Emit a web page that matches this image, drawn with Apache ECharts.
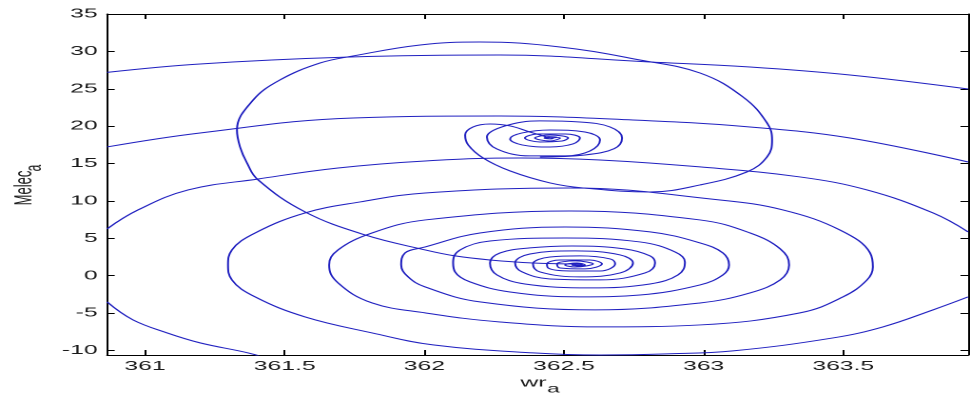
<!DOCTYPE html>
<html>
<head>
<meta charset="utf-8">
<script src="https://cdn.jsdelivr.net/npm/echarts@6/dist/echarts.min.js"></script>
<style>
  html, body { margin: 0; padding: 0; background: #fff; }
  #wrap { width: 970px; height: 394px; overflow: hidden; position: relative; }
  /* the source figure is stretched sideways, so draw narrow and widen */
  #chart { width: 510px; height: 394px; transform: scaleX(1.90196); transform-origin: 0 0; }
</style>
</head>
<body>
<div id="wrap"><div id="chart"></div></div>
<script>
// axis ranges and ticks
const X_MIN = 360.864, X_MAX = 363.947;
const Y_MIN = -10.6, Y_MAX = 35;
const xTicks = [361, 361.5, 362, 362.5, 363, 363.5];
const yTicks = [-10, -5, 0, 5, 10, 15, 20, 25, 30, 35];

// outer arcs of the lower spiral (only the parts inside the box)
const arcA = [[360.864,27.2],[361.197,28.32],[361.734,29.25],[362.271,29.52],[362.808,28.58],[363.166,27.91],[363.524,26.84],[363.947,24.97]];
const arcB = [[360.864,17.22],[361.197,19.09],[361.745,21.10],[362.271,21.36],[362.747,20.83],[363.166,19.89],[363.524,18.42],[363.947,15.21]];
const arcC = [[360.864,6.26],[360.975,8.80],[361.154,11.47],[361.405,12.94],[361.691,14.41],[362.003,15.35],[362.343,15.75],[362.629,15.48],[362.987,14.55],[363.345,13.21],[363.585,11.47],[363.821,8.40],[363.947,5.86]];
const arcD = [[360.864,-3.50],[360.957,-5.91],[361.079,-7.65],[361.197,-8.98],[361.369,-10.32],[361.45,-11.2]];

// lower spiral, from the bottom arc inwards to the centre
const lowerSpiral = [
  [363.947,-2.83],[363.821,-4.57],[363.642,-6.84],[363.463,-8.32],[363.105,-10.05],[362.869,-10.45],[362.629,-10.6],[362.389,-10.32],[362.031,-9.25],[361.813,-7.65],[361.573,-5.51],[361.394,-2.83],[361.311,-0.56],[361.297,1.44],
  [361.311,3.45],[361.394,5.72],[361.573,8.40],[361.770,9.87],[362.003,11.07],[362.522,11.74],[363.059,10.13],[363.284,8.80],[363.488,6.12],[363.596,3.05],[363.606,1.17],
  [363.585,-0.56],[363.499,-2.83],[363.345,-4.97],[362.987,-6.58],[362.629,-6.84],[362.271,-6.18],[362.003,-4.97],[361.813,-3.64],[361.691,-0.96],[361.659,1.44],
  [361.691,3.45],[361.813,5.72],[362.003,7.46],[362.522,8.66],[362.987,7.46],[363.166,5.72],[363.274,3.60],[363.306,1.44],
  [363.274,-0.56],[363.166,-2.30],[362.987,-3.64],[362.611,-4.57],[362.199,-3.50],[362.003,-1.50],[361.942,-0.16],[361.917,1.44],
  [361.931,3.05],[362.003,3.85],[362.199,5.72],[362.504,6.52],[362.808,5.86],[362.987,4.39],[363.069,3.05],[363.091,1.44],
  [363.069,0.11],[362.987,-1.23],[362.772,-2.57],[362.557,-2.83],[362.307,-2.17],[362.164,-0.83],[362.110,0.51],[362.103,1.71],
  [362.128,3.45],[362.235,4.65],[362.504,5.05],[362.772,4.52],[362.898,3.18],[362.933,1.84],
  [362.908,0.11],[362.808,-1.10],[362.593,-1.63],[362.360,-1.10],[362.260,0.11],[362.235,1.71],
  [362.271,3.05],[362.378,3.72],[362.529,3.98],[362.719,3.58],[362.808,2.65],[362.826,1.71],
  [362.790,0.37],[362.629,-0.56],[362.450,-0.43],[362.350,0.51],[362.325,1.71],
  [362.378,2.91],[362.540,3.32],[362.701,2.78],[362.747,1.71],
  [362.701,0.37],[362.557,-0.16],[362.414,0.51],[362.389,1.58],
  [362.450,2.51],[362.557,2.65],[362.665,2.25],[362.683,1.58],
  [362.629,0.64],[362.522,0.64],[362.443,1.04],[362.439,1.58],
  [362.486,2.11],[362.593,2.11],[362.636,1.58],[362.575,0.91],[362.486,1.04],[362.475,1.58],
  [362.540,1.98],[362.604,1.58],[362.540,1.17],[362.504,1.44],[362.547,1.71],[362.575,1.44],[362.547,1.31],[362.529,1.44],[362.550,1.58],
  [362.565,1.50],[362.548,1.40],[362.538,1.52],[362.552,1.55]
];

// upper spiral settling on the upper point
const upperSpiral = [
  [362.414,15.88],[362.575,16.15],[362.680,17.0],
  [362.708,18.42],[362.665,19.89],[362.557,20.56],[362.414,20.70],[362.289,20.03],[362.224,18.56],
  [362.260,16.95],[362.378,16.02],[362.504,16.02],[362.593,16.68],[362.629,18.16],
  [362.575,19.22],[362.450,19.49],[362.350,19.09],[362.307,18.29],
  [362.350,17.49],[362.450,17.22],[362.532,17.62],[362.557,18.42],
  [362.504,18.96],[362.407,18.96],[362.360,18.42],[362.414,17.89],[362.493,18.02],[362.515,18.42],
  [362.450,18.82],[362.396,18.42],[362.450,18.02],[362.486,18.42],[362.432,18.56],[362.450,18.29],[362.457,18.42],
  [362.475,18.50],[362.445,18.60],[362.430,18.40],[362.455,18.30],[362.462,18.42]
];

// big loop from the upper point down to the lower point
const bigLoop = [
  [362.450,18.42],[362.378,19.22],[362.307,20.03],[362.235,20.29],[362.174,19.89],[362.146,18.82],[362.157,17.49],[362.210,15.75],
  [362.307,14.01],[362.450,12.41],[362.568,11.74],[362.808,11.20],[362.987,12.14],[363.155,13.88],[363.227,15.88],[363.245,18.16],
  [363.227,20.43],[363.141,23.90],[362.987,27.11],[362.772,28.85],[362.486,30.59],[362.199,31.26],[361.985,30.86],[361.745,29.39],
  [361.627,28.45],[361.483,26.18],[361.387,23.50],[361.329,19.49],[361.340,17.22],[361.365,15.08],[361.405,12.81],[361.573,8.53],
  [361.788,5.45],[362.003,3.45],[362.110,2.65],[362.235,2.11],[362.389,1.71],[362.547,1.58]
];

const paths = [arcA, arcB, arcC, arcD, lowerSpiral, upperSpiral, bigLoop];

const FONT = '"Liberation Sans", Arial, Helvetica, sans-serif';
const LINE = '#2020c0';
const TXT = '#1a1a1a';

const chart = echarts.init(document.getElementById('chart'), null, { renderer: 'canvas', devicePixelRatio: 2 });

const tickAxis = (pos, ticks, labels) => ({
  type: 'value',
  position: pos,
  min: pos === 'bottom' || pos === 'top' ? X_MIN : Y_MIN,
  max: pos === 'bottom' || pos === 'top' ? X_MAX : Y_MAX,
  axisLine: { show: true, onZero: false, lineStyle: { color: '#000', width: 1 } },
  axisTick: { show: true, inside: true, length: pos === 'bottom' || pos === 'top' ? 5 : 4, customValues: ticks, lineStyle: { color: '#000', width: 1 } },
  axisLabel: labels
    ? { show: true, customValues: ticks, color: TXT, fontSize: 13, fontFamily: FONT, margin: 5 }
    : { show: false },
  splitLine: { show: false },
});

chart.setOption({
  animation: false,
  backgroundColor: '#fff',
  grid: { left: 56.3, right: 1, top: 14, bottom: 39 },
  xAxis: [tickAxis('bottom', xTicks, true), tickAxis('top', xTicks, false)],
  yAxis: [tickAxis('left', yTicks, true), tickAxis('right', yTicks, false)],
  series: paths.map((p) => ({
    type: 'line',
    data: p,
    xAxisIndex: 0,
    yAxisIndex: 0,
    smooth: 0.4,
    symbol: 'none',
    clip: true,
    lineStyle: { color: LINE, width: 1 },
  })),
  graphic: [
    { type: 'text', x: 12.9, y: 188, rotation: Math.PI / 2,
      style: { text: 'Melec', font: '13px ' + FONT, fill: TXT, align: 'center', verticalAlign: 'middle' } },
    { type: 'text', x: 18.4, y: 168, rotation: Math.PI / 2,
      style: { text: 'a', font: '12px ' + FONT, fill: TXT, align: 'center', verticalAlign: 'middle' } },
    { type: 'text', x: 280.5, y: 383,
      style: { text: 'wr', font: '13px ' + FONT, fill: TXT, align: 'center', verticalAlign: 'middle' } },
    { type: 'text', x: 291, y: 389,
      style: { text: 'a', font: '12px ' + FONT, fill: TXT, align: 'center', verticalAlign: 'middle' } },
  ],
});
</script>
</body>
</html>
